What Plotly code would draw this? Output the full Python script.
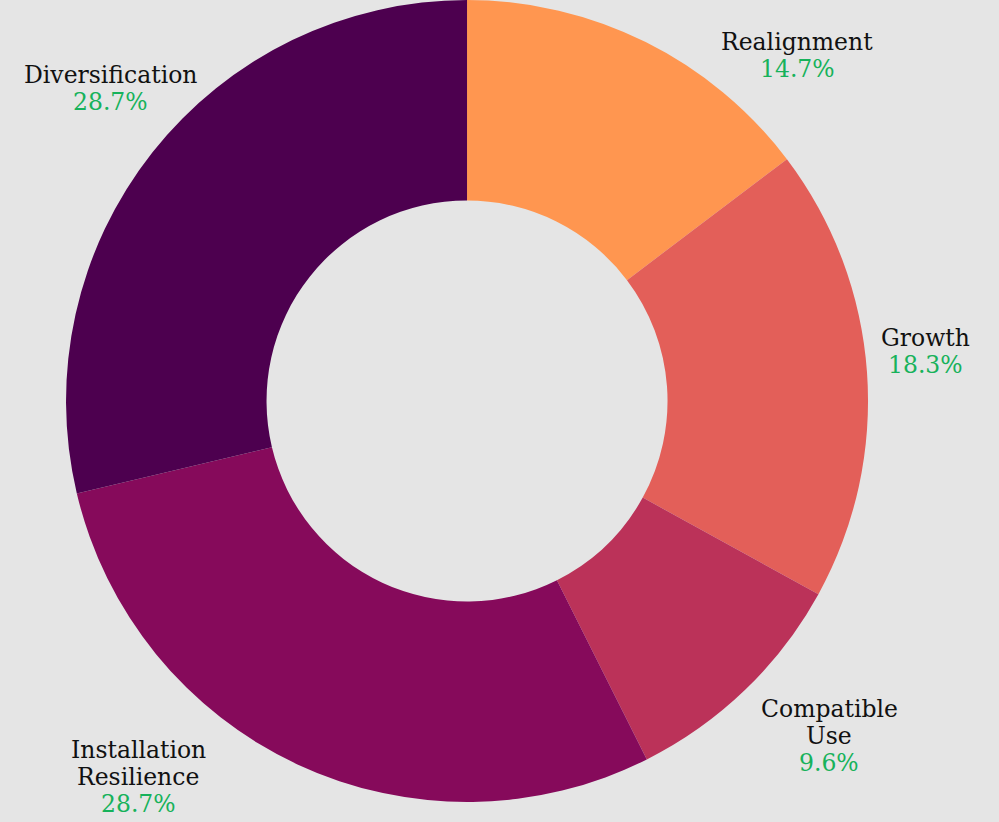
import plotly.graph_objects as go

labels = ["Realignment", "Growth", "Compatible Use", "Installation Resilience", "Diversification"]
values = [14.7, 18.3, 9.6, 28.7, 28.7]
colors = ["#FF9650", "#E35F59", "#BB3259", "#860A5B", "#4D004F"]

# label text lines (how each category name wraps)
label_lines = [["Realignment"], ["Growth"], ["Compatible", "Use"],
               ["Installation", "Resilience"], ["Diversification"]]
# layout of the outside labels: center x and first-line center y, in pixels
label_pos = [(797, 42), (925, 338), (829, 709), (138, 750), (110, 75)]
LINE_GAP = 27
W, H = 999, 822

fig = go.Figure(go.Pie(
    labels=labels,
    values=values,
    hole=0.5,
    sort=False,
    direction="clockwise",
    rotation=0,
    marker=dict(colors=colors, line=dict(width=0)),
    textinfo="none",
    hoverinfo="label+percent",
    showlegend=False,
    domain=dict(x=[0.0661, 0.8689], y=[0.0243, 1.0]),
))

total = sum(values)
annotations = []
for lines, v, (px, py) in zip(label_lines, values, label_pos):
    rows = [(t, "#111111") for t in lines] + [(f"{100 * v / total:.1f}%", "#17B25B")]
    for i, (txt, col) in enumerate(rows):
        annotations.append(dict(
            x=px / W, y=1 - (py + i * LINE_GAP) / H, xref="paper", yref="paper",
            text=txt, showarrow=False, xanchor="center", yanchor="middle",
            font=dict(family="DejaVu Serif", size=23.5, color=col),
        ))

fig.update_layout(
    width=W,
    height=H,
    paper_bgcolor="#E5E5E5",
    plot_bgcolor="#E5E5E5",
    margin=dict(l=0, r=0, t=0, b=0, autoexpand=False),
    annotations=annotations,
)

fig.write_html(
    "out.html",
    config={"displayModeBar": False},
    post_script="document.body.style.margin='0';document.body.style.background='#E5E5E5';",
)
